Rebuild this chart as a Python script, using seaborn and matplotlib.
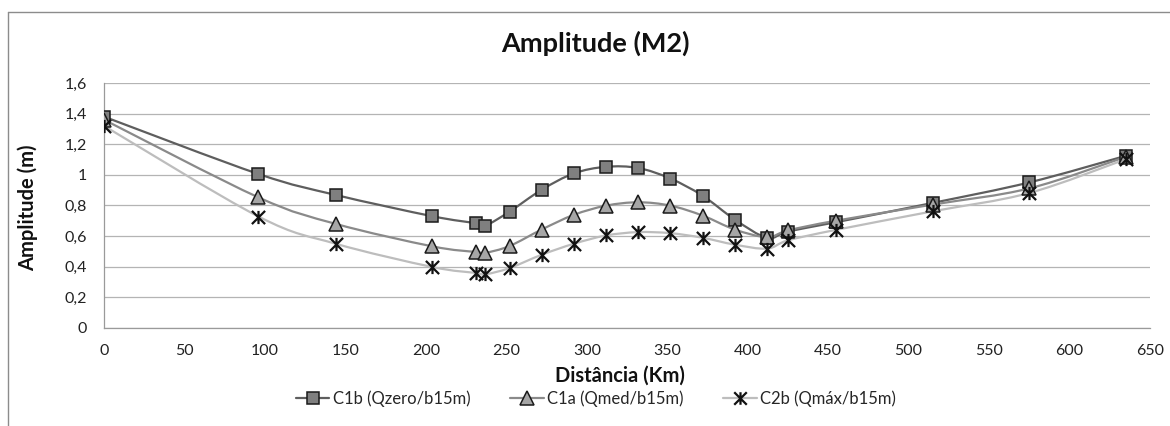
import numpy as np
import pandas as pd
import matplotlib
matplotlib.use("Agg")
import matplotlib.pyplot as plt
from matplotlib.path import Path
from matplotlib.patches import PathPatch
from matplotlib.lines import Line2D
import seaborn as sns

# ---------------- data ----------------
distancia = [0, 96, 144, 204, 231, 237, 252, 272, 292, 312, 332, 352, 372, 392, 412, 425, 455, 515, 575, 635]
c1b = [1.38, 1.005, 0.868, 0.729, 0.683, 0.668, 0.759, 0.902, 1.009, 1.052, 1.044, 0.975,
       0.863, 0.707, 0.588, 0.629, 0.690, 0.816, 0.950, 1.124]
c1a = [1.36, 0.852, 0.679, 0.532, 0.495, 0.490, 0.534, 0.642, 0.738, 0.798, 0.820, 0.798,
       0.733, 0.642, 0.592, 0.636, 0.700, 0.805, 0.911, 1.117]
c2b = [1.32, 0.727, 0.549, 0.397, 0.358, 0.349, 0.390, 0.477, 0.549, 0.603, 0.625, 0.618,
       0.588, 0.543, 0.517, 0.571, 0.640, 0.761, 0.881, 1.102]
series_names = ["C1b (Qzero/b15m)", "C1a (Qmed/b15m)", "C2b (Qmáx/b15m)"]
x_ticks = [0, 50, 100, 150, 200, 250, 300, 350, 400, 450, 500, 550, 600, 650]
y_ticks = [0, 0.2, 0.4, 0.6, 0.8, 1.0, 1.2, 1.4, 1.6]
y_tick_labels = ["0", "0,2", "0,4", "0,6", "0,8", "1", "1,2", "1,4", "1,6"]

# ---------------- style ----------------
sns.set_theme(style="white")
plt.rcParams["font.family"] = ["Lato", "DejaVu Sans"]

W, H = 1170, 426
fig = plt.figure(figsize=(W / 100, H / 100), dpi=100)
L, R, T, B = 104, 1150, 83, 327.7
ax = fig.add_axes([L / W, 1 - B / H, (R - L) / W, (B - T) / H])

star = Path([(0, -1), (0, 1), (-1, -1), (1, 1), (-1, 1), (1, -1)],
            [Path.MOVETO, Path.LINETO, Path.MOVETO, Path.LINETO, Path.MOVETO, Path.LINETO])

styles = [
    dict(line="#5e5e5e", marker="s", ms=9, face="#7f7f7f", edge="#1a1a1a", mew=1.1),
    dict(line="#8a8a8a", marker="^", ms=10, face="#a6a6a6", edge="#1a1a1a", mew=1.1),
    dict(line="#bdbdbd", marker=star, ms=9.5, face="none", edge="#111111", mew=1.6),
]

df = pd.DataFrame({"Distância": distancia, series_names[0]: c1b,
                   series_names[1]: c1a, series_names[2]: c2b})


def smooth_path(xs, ys):
    pts = np.column_stack([xs, ys]).astype(float)
    n = len(pts)
    verts = [pts[0]]
    codes = [Path.MOVETO]
    for i in range(n - 1):
        p0 = pts[i - 1] if i > 0 else pts[i]
        p1 = pts[i]
        p2 = pts[i + 1]
        p3 = pts[i + 2] if i + 2 < n else pts[i + 1]
        verts += [p1 + (p2 - p0) / 6.0, p2 - (p3 - p1) / 6.0, p2]
        codes += [Path.CURVE4] * 3
    return Path(verts, codes)


handles = []
for name, st in zip(series_names, styles):
    ax.add_patch(PathPatch(smooth_path(df["Distância"], df[name]), facecolor="none",
                           edgecolor=st["line"], lw=1.6, zorder=3))
    sns.lineplot(data=df, x="Distância", y=name, ax=ax, linestyle="none",
                 marker=st["marker"], markersize=st["ms"], markerfacecolor=st["face"],
                 markeredgecolor=st["edge"], markeredgewidth=st["mew"], zorder=4)
    handles.append(Line2D([0], [0], color=st["line"], lw=1.6, marker=st["marker"],
                          markersize=st["ms"] * 0.95, markerfacecolor=st["face"],
                          markeredgecolor=st["edge"], markeredgewidth=st["mew"]))

ax.set_xlim(0, 650)
ax.set_ylim(0, 1.6)
ax.set_xticks(x_ticks)
ax.set_xticklabels([str(v) for v in x_ticks])
ax.set_yticks(y_ticks)
ax.set_yticklabels(y_tick_labels)
ax.tick_params(axis="both", length=0, labelsize=11.5, colors="#222222", pad=12)
ax.grid(axis="y", color="#b4b4b4", lw=0.9)
ax.grid(axis="x", visible=False)
for s in ["top", "right"]:
    ax.spines[s].set_visible(False)
for s in ["left", "bottom"]:
    ax.spines[s].set_color("#9a9a9a")
    ax.spines[s].set_linewidth(0.9)
ax.set_xlabel("")
ax.set_ylabel("")

# labels and title
fig.text(595 / W, 1 - 43 / H, "Amplitude (M2)", ha="center", va="center",
         fontsize=19.5, fontweight="bold", color="#111111")
fig.text(28 / W, 1 - 208 / H, "Amplitude (m)", ha="center", va="center", rotation=90,
         fontsize=14.5, fontweight="bold", color="#111111")
fig.text(620 / W, 1 - 376 / H, "Distância (Km)", ha="center", va="center",
         fontsize=14.5, fontweight="bold", color="#111111")

fig.legend(handles, series_names, loc="center", bbox_to_anchor=(596 / W, 1 - 399 / H),
           ncol=3, frameon=False, fontsize=12, handlelength=2.0, handletextpad=0.2,
           columnspacing=2.4)

# chart outer frame (left and top edges visible)
fig.add_artist(Line2D([8 / W, 8 / W], [0, 1 - 12 / H], transform=fig.transFigure,
                      color="#8c8c8c", lw=1.0))
fig.add_artist(Line2D([8 / W, 1], [1 - 12 / H, 1 - 12 / H], transform=fig.transFigure,
                      color="#8c8c8c", lw=1.0))

fig.savefig("out.png", dpi=100)
